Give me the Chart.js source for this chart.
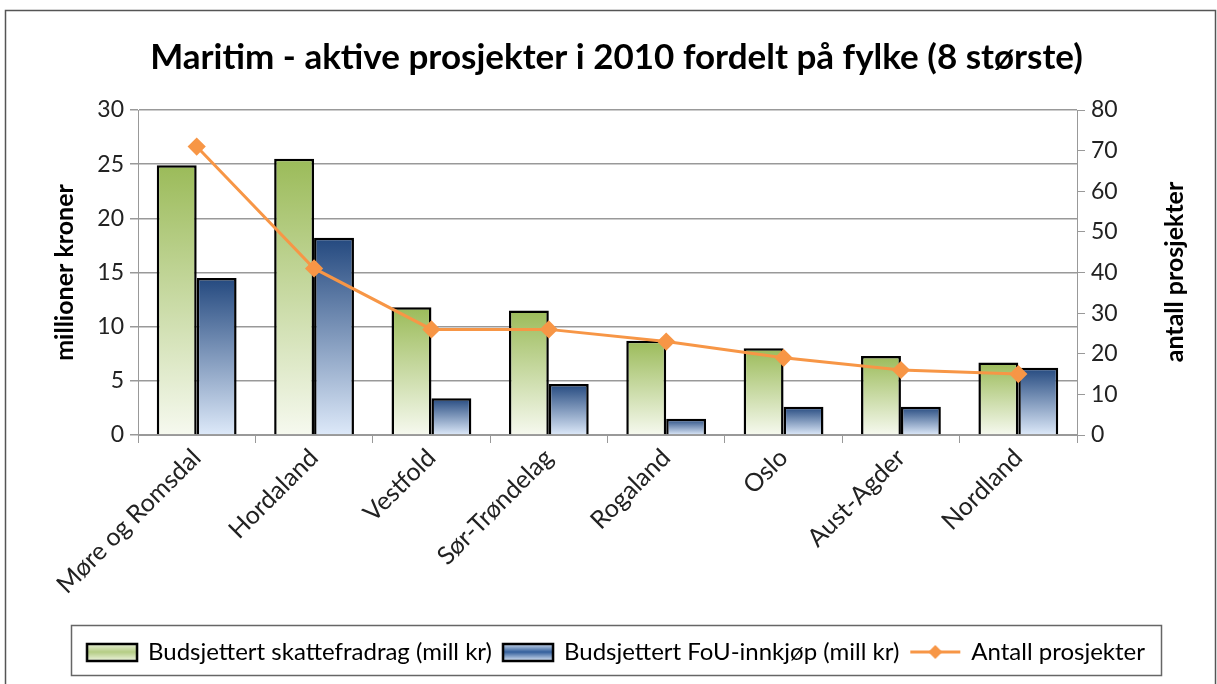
<!DOCTYPE html>
<html>
<head>
<meta charset="utf-8">
<script src="https://cdn.jsdelivr.net/npm/chart.js@4.4.0/dist/chart.umd.min.js"></script>
<style>
  html, body { margin: 0; padding: 0; background: #fff; }
  #wrap { width: 1217px; height: 684px; }
</style>
</head>
<body>
<div id="wrap"><canvas id="chart" width="1217" height="684"></canvas></div>
<script>
const fylker = ["Møre og Romsdal", "Hordaland", "Vestfold", "Sør-Trøndelag", "Rogaland", "Oslo", "Aust-Agder", "Nordland"];
const skattefradrag = [24.9, 25.5, 11.8, 11.5, 8.7, 8.0, 7.3, 6.7];
const fouInnkjop = [14.5, 18.2, 3.4, 4.7, 1.5, 2.6, 2.6, 6.2];
const antallProsjekter = [71, 41, 26, 26, 23, 19, 16, 15];

const font = "Lato";
const gronn = ["#9bbb59", "#f6f9ef"];
const bla = ["#24497f", "#dde9f9"];

// gradient per stolpe, fra toppen av stolpen og ned til null
function stolpeGradient(farger) {
    return ctx => {
        const chart = ctx.chart;
        const y = chart.scales.y;
        if (!y || ctx.parsed === undefined || !chart.chartArea) return farger[0];
        const topp = y.getPixelForValue(ctx.parsed.y);
        const bunn = y.getPixelForValue(0);
        const g = chart.ctx.createLinearGradient(0, topp, 0, bunn);
        g.addColorStop(0, farger[0]);
        g.addColorStop(1, farger[1]);
        return g;
    };
}

function legendIkon(type) {
    const c = document.createElement("canvas");
    c.width = 54; c.height = 24;
    const g = c.getContext("2d");
    if (type === "linje") {
        g.strokeStyle = "#f79646";
        g.lineWidth = 3;
        g.beginPath(); g.moveTo(2, 12); g.lineTo(52, 12); g.stroke();
        g.fillStyle = "#f79646";
        g.beginPath(); g.moveTo(27, 5); g.lineTo(34, 12); g.lineTo(27, 19); g.lineTo(20, 12); g.closePath(); g.fill();
    } else {
        const farger = type === "gronn" ? ["#b5cd85", "#eef4e0"] : ["#34609c", "#dbe7f7"];
        const gr = g.createLinearGradient(0, 3, 0, 21);
        gr.addColorStop(0, farger[1]);
        gr.addColorStop(0.5, farger[0]);
        gr.addColorStop(1, farger[1]);
        g.fillStyle = gr;
        g.fillRect(2, 4, 50, 17);
        g.strokeStyle = "#000";
        g.lineWidth = 2.5;
        g.strokeRect(2, 4, 50, 17);
    }
    return c;
}
const ikoner = [legendIkon("gronn"), legendIkon("bla"), legendIkon("linje")];

const rammePlugin = {
    id: "ramme",
    afterDraw(chart) {
        const c = chart.ctx;
        c.save();
        c.strokeStyle = "#555";
        c.lineWidth = 1.5;
        c.strokeRect(5.5, 10.5, 1210, 690);
        const l = chart.legend;
        c.strokeStyle = "#666";
        c.lineWidth = 1.5;
        c.strokeRect(71.5, l.top - 2.5, 1090, l.height + 4);
        // høyre aksetittel, lest nedenfra og opp
        c.translate(1175, 272);
        c.rotate(-Math.PI / 2);
        c.fillStyle = "#000";
        c.font = "bold 25px " + font;
        c.textAlign = "center";
        c.textBaseline = "middle";
        c.fillText("antall prosjekter", 0, 0);
        c.restore();
    }
};

new Chart(document.getElementById("chart"), {
    type: "bar",
    data: {
        labels: fylker,
        datasets: [
            {
                label: "Budsjettert skattefradrag (mill kr)",
                data: skattefradrag,
                backgroundColor: stolpeGradient(gronn),
                borderColor: "#000",
                borderWidth: 2.5,
                yAxisID: "y",
                order: 2
            },
            {
                label: "Budsjettert FoU-innkjøp (mill kr)",
                data: fouInnkjop,
                backgroundColor: stolpeGradient(bla),
                borderColor: "#000",
                borderWidth: 2.5,
                yAxisID: "y",
                order: 2
            },
            {
                type: "line",
                label: "Antall prosjekter",
                data: antallProsjekter,
                borderColor: "#f79646",
                backgroundColor: "#f79646",
                borderWidth: 3,
                pointStyle: "rectRot",
                pointRadius: 7,
                pointHoverRadius: 7,
                tension: 0,
                yAxisID: "y1",
                order: 1
            }
        ]
    },
    options: {
        responsive: false,
        animation: false,
        layout: { padding: { left: 16, right: 0, top: 10, bottom: 10 } },
        datasets: {
            bar: { categoryPercentage: 0.68, barPercentage: 1.0 }
        },
        scales: {
            x: {
                afterFit: s => { s.height = 193; },
                grid: { display: true, drawOnChartArea: false, offset: true, color: "#999", tickLength: 8 },
                border: { display: true, color: "#999" },
                ticks: {
                    color: "#222",
                    font: { family: font, size: 25 },
                    minRotation: 45,
                    maxRotation: 45,
                    autoSkip: false,
                    padding: 0
                }
            },
            y: {
                position: "left",
                min: 0,
                max: 30,
                afterFit: s => { s.width = 122; },
                ticks: { stepSize: 5, color: "#222", font: { family: font, size: 23 }, padding: 6 },
                grid: { color: "#999", lineWidth: 1.5, tickLength: 8 },
                border: { display: true, color: "#999" },
                title: {
                    display: true,
                    text: "millioner kroner",
                    color: "#000",
                    font: { family: font, size: 25, weight: "bold" },
                    padding: { top: 34, bottom: 0 }
                }
            },
            y1: {
                position: "right",
                min: 0,
                max: 80,
                afterFit: s => { s.width = 140; },
                ticks: { stepSize: 10, color: "#222", font: { family: font, size: 23 }, padding: 6 },
                grid: { drawOnChartArea: false, color: "#999", tickLength: 8 },
                border: { display: true, color: "#999" }
            }
        },
        plugins: {
            title: {
                display: true,
                text: "Maritim - aktive prosjekter i 2010 fordelt på fylke (8 største)",
                color: "#000",
                font: { family: font, size: 35, weight: "bold" },
                padding: { top: 27, bottom: 31 }
            },
            legend: {
                position: "bottom",
                labels: {
                    color: "#222",
                    font: { family: font, size: 24 },
                    usePointStyle: true,
                    pointStyleWidth: 48,
                    boxHeight: 24,
                    padding: 12,
                    generateLabels: chart => chart.data.datasets.map((d, i) => ({
                        text: d.label,
                        pointStyle: ikoner[i],
                        fillStyle: "transparent",
                        strokeStyle: "transparent",
                        lineWidth: 0,
                        datasetIndex: i,
                        hidden: false
                    }))
                }
            },
            tooltip: { enabled: false }
        }
    },
    plugins: [rammePlugin]
});
</script>
</body>
</html>
